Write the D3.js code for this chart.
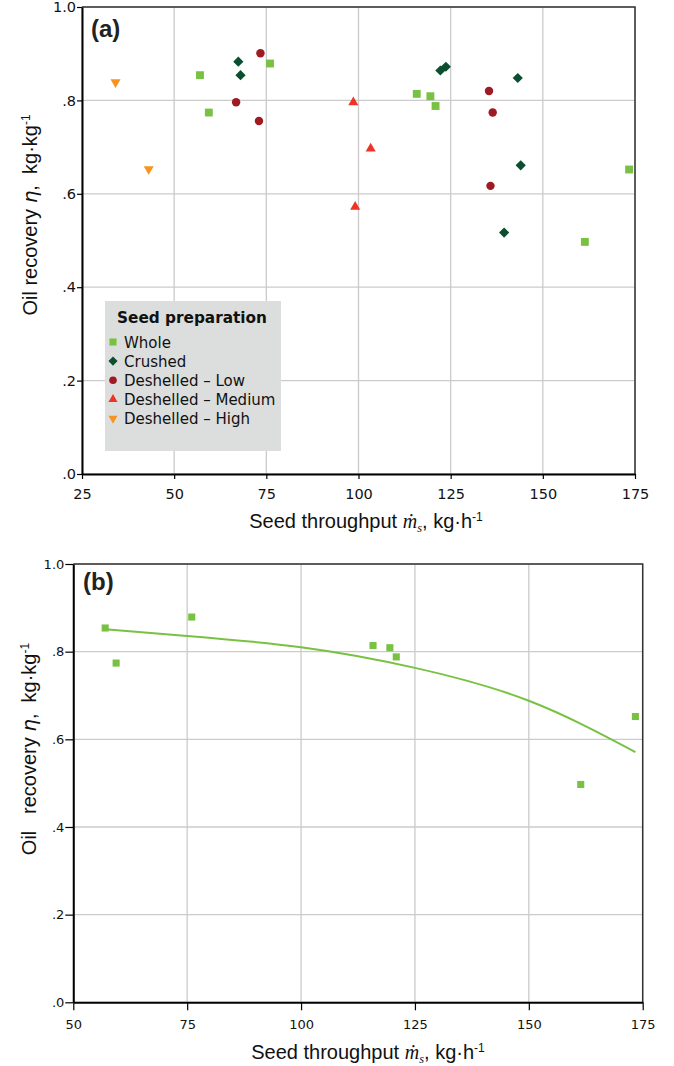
<!DOCTYPE html>
<html><head><meta charset="utf-8">
<script src="https://cdn.jsdelivr.net/npm/d3@7"></script>
<style>
body{margin:0;background:#fff;}
svg{display:block;}
text{white-space:pre;}
</style></head>
<body>
<svg id="chart" width="674" height="1066"></svg>
<script>
// ---- data ----
const categories = ["Whole", "Crushed", "Deshelled \u2013 Low", "Deshelled \u2013 Medium", "Deshelled \u2013 High"];
const whole_x   = [57.0, 59.4, 76.0, 115.8, 119.5, 120.9, 161.4, 173.4];
const whole_y   = [0.854, 0.774, 0.879, 0.814, 0.809, 0.788, 0.497, 0.652];
const crushed_x = [67.4, 68.0, 122.2, 123.7, 143.2, 144.0, 139.5];
const crushed_y = [0.883, 0.854, 0.864, 0.872, 0.848, 0.661, 0.517];
const low_x     = [73.4, 66.8, 73.0, 135.4, 136.4, 135.8];
const low_y     = [0.901, 0.796, 0.756, 0.820, 0.774, 0.617];
const medium_x  = [98.6, 103.3, 99.1];
const medium_y  = [0.796, 0.697, 0.572];
const high_x    = [34.1, 43.1];
const high_y    = [0.839, 0.653];
const fit_x     = [57, 75, 100, 125, 150, 173.4];
const fit_y     = [0.851, 0.836, 0.810, 0.763, 0.688, 0.571];
const xTicksA   = [25, 50, 75, 100, 125, 150, 175];
const xTicksB   = [50, 75, 100, 125, 150, 175];
const yTicks    = [0, 0.2, 0.4, 0.6, 0.8, 1.0];

const colors  = ["#79c143", "#0b4e30", "#9e1b23", "#ef3326", "#f7931e"];
const series = [
  {name: categories[0], xs: whole_x,   ys: whole_y,   shape: "square"},
  {name: categories[1], xs: crushed_x, ys: crushed_y, shape: "diamond"},
  {name: categories[2], xs: low_x,     ys: low_y,     shape: "circle"},
  {name: categories[3], xs: medium_x,  ys: medium_y,  shape: "triUp"},
  {name: categories[4], xs: high_x,    ys: high_y,    shape: "triDown"}
];

const svg = d3.select("#chart");
const yFmt = v => v === 1 ? "1.0" : d3.format(".1f")(v).replace(/^0/, "");

function symbolPath(shape, s) {
  switch (shape) {
    case "square":  return {d: d3.symbol(d3.symbolSquare, 62 * s * s)(), rot: 0};
    case "diamond": return {d: d3.symbol(d3.symbolSquare, 52 * s * s)(), rot: 45};
    case "circle":  return {d: d3.symbol(d3.symbolCircle, 56 * s * s)(), rot: 0};
    case "triUp":   return {d: d3.symbol(d3.symbolTriangle, 44 * s * s)(), rot: 0};
    case "triDown": return {d: d3.symbol(d3.symbolTriangle, 44 * s * s)(), rot: 180};
  }
}

function drawFrame(g, x, y, xTicks, opt) {
  const [x0, x1] = x.range();
  const [y0, y1] = y.range();
  g.append("g").selectAll("line").data(xTicks).join("line")
    .attr("x1", d => x(d)).attr("x2", d => x(d)).attr("y1", y0).attr("y2", y1)
    .attr("stroke", "#cbcbcb").attr("stroke-width", 1.3);
  g.append("g").selectAll("line").data(yTicks).join("line")
    .attr("x1", x0).attr("x2", x1).attr("y1", d => y(d)).attr("y2", d => y(d))
    .attr("stroke", "#cbcbcb").attr("stroke-width", 1.3);
  g.append("path").attr("d", `M${x0},${y1}H${x1}V${y0}`)
    .attr("fill", "none").attr("stroke", "#333").attr("stroke-width", 1.5);
  const xa = g.append("g").attr("transform", `translate(0,${y0})`)
    .call(d3.axisBottom(x).tickValues(xTicks).tickSize(opt.tick).tickPadding(opt.xpad).tickSizeOuter(0));
  const ya = g.append("g").attr("transform", `translate(${x0},0)`)
    .call(d3.axisLeft(y).tickValues(yTicks).tickFormat(yFmt).tickSize(opt.tick).tickPadding(1).tickSizeOuter(0));
  [xa, ya].forEach(a => {
    a.select(".domain").attr("stroke", "#000").attr("stroke-width", 2);
    a.selectAll(".tick line").attr("stroke", "#000").attr("stroke-width", 1.2);
    a.selectAll(".tick text").attr("fill", "#111")
      .attr("font-family", "DejaVu Sans, Verdana, sans-serif").attr("font-size", opt.fs);
  });
}

function axisTitles(g, cx, xBase, yx, yc, ylabelGap, fs) {
  const t = g.append("text").attr("x", cx).attr("y", xBase).attr("text-anchor", "middle")
    .attr("font-family", "Liberation Sans, Arial, sans-serif").attr("font-size", fs).attr("fill", "#111");
  t.append("tspan").text("Seed throughput ");
  t.append("tspan").attr("font-family", "Liberation Serif, Times New Roman, serif").attr("font-style", "italic").text("\u1E41");
  t.append("tspan").attr("font-family", "Liberation Serif, Times New Roman, serif").attr("font-style", "italic")
    .attr("font-size", fs * 0.62).attr("dy", 4).text("s");
  t.append("tspan").attr("dy", -4).text(", kg\u00B7h");
  t.append("tspan").attr("font-size", fs * 0.6).attr("dy", -7).text("-1");

  const u = g.append("text").attr("transform", `translate(${yx},${yc}) rotate(-90)`).attr("text-anchor", "middle")
    .attr("font-family", "Liberation Sans, Arial, sans-serif").attr("font-size", fs).attr("fill", "#111");
  u.append("tspan").text("Oil" + ylabelGap + "recovery ");
  u.append("tspan").attr("font-style", "italic").attr("font-family", "DejaVu Sans, sans-serif").text("\u03B7");
  u.append("tspan").text(",  kg\u00B7kg");
  u.append("tspan").attr("font-size", fs * 0.6).attr("dy", -7).text("-1");
}

// ---------------- panel (a) ----------------
const ga = svg.append("g");
const xA = d3.scaleLinear().domain([25, 175]).range([82, 635]);
const yA = d3.scaleLinear().domain([0, 1]).range([474, 7]);
drawFrame(ga, xA, yA, xTicksA, {tick: 5, xpad: 10, fs: 14.5});

series.forEach((s, i) => {
  const sp = symbolPath(s.shape, 1);
  ga.append("g").selectAll("path").data(d3.range(s.xs.length)).join("path")
    .attr("d", sp.d)
    .attr("transform", j => `translate(${xA(s.xs[j])},${yA(s.ys[j])}) rotate(${sp.rot})`)
    .attr("fill", colors[i]);
});

ga.append("text").attr("x", 91).attr("y", 37).attr("font-family", "Liberation Sans, Arial, sans-serif")
  .attr("font-weight", "bold").attr("font-size", 24).attr("fill", "#222").text("(a)");

// legend
const lg = ga.append("g");
lg.append("rect").attr("x", 105).attr("y", 301).attr("width", 176).attr("height", 150).attr("fill", "#dcdedd");
lg.append("text").attr("x", 117).attr("y", 323).attr("font-family", "DejaVu Sans, Verdana, sans-serif")
  .attr("font-weight", "bold").attr("font-size", 15.3).attr("fill", "#111").text("Seed preparation");
series.forEach((s, i) => {
  const by = 348 + i * 19.1;
  const sp = symbolPath(s.shape, 0.9);
  lg.append("path").attr("d", sp.d).attr("transform", `translate(113,${by - 6}) rotate(${sp.rot})`).attr("fill", colors[i]);
  lg.append("text").attr("x", 124).attr("y", by).attr("font-family", "DejaVu Sans, Verdana, sans-serif")
    .attr("font-size", 15).attr("fill", "#111").text(s.name);
});

axisTitles(ga, 366, 528, 37, 215, " ", 20);

// ---------------- panel (b) ----------------
const gb = svg.append("g");
const xB = d3.scaleLinear().domain([50, 175]).range([73.3, 642.7]);
const yB = d3.scaleLinear().domain([0, 1]).range([1002.3, 564]);
drawFrame(gb, xB, yB, xTicksB, {tick: 8, xpad: 9, fs: 13});

gb.append("path")
  .datum(d3.range(fit_x.length))
  .attr("d", d3.line().x(j => xB(fit_x[j])).y(j => yB(fit_y[j])).curve(d3.curveNatural))
  .attr("fill", "none").attr("stroke", colors[0]).attr("stroke-width", 2);

const spb = symbolPath("square", 0.9);
gb.append("g").selectAll("path").data(d3.range(whole_x.length)).join("path")
  .attr("d", spb.d)
  .attr("transform", j => `translate(${xB(whole_x[j])},${yB(whole_y[j])})`)
  .attr("fill", colors[0]);

gb.append("text").attr("x", 83).attr("y", 590).attr("font-family", "Liberation Sans, Arial, sans-serif")
  .attr("font-weight", "bold").attr("font-size", 24).attr("fill", "#222").text("(b)");

axisTitles(gb, 368, 1059, 36, 749, "   ", 20);
</script>
</body></html>
